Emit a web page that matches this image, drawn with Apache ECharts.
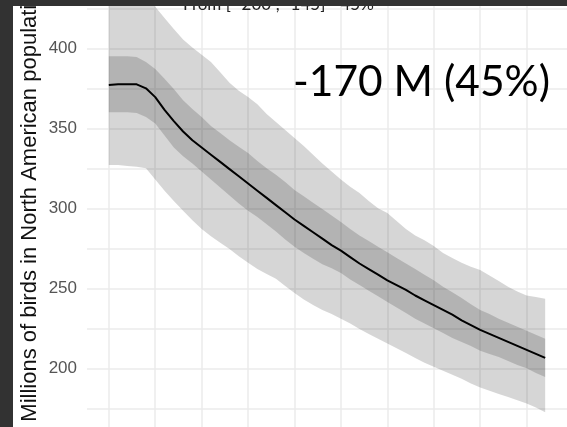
<!DOCTYPE html>
<html>
<head>
<meta charset="utf-8">
<script src="https://cdn.jsdelivr.net/npm/echarts@6/dist/echarts.min.js"></script>
<style>
  html, body { margin: 0; padding: 0; background: #fff; }
  #chart { width: 567px; height: 427px; }
</style>
</head>
<body>
<div id="chart"></div>
<script>
  // years of the trajectory
  var years = [1970, 1971, 1972, 1973, 1974, 1975, 1976, 1977, 1978, 1979,
    1980, 1981, 1982, 1983, 1984, 1985, 1986, 1987, 1988, 1989,
    1990, 1991, 1992, 1993, 1994, 1995, 1996, 1997, 1998, 1999,
    2000, 2001, 2002, 2003, 2004, 2005, 2006, 2007, 2008, 2009,
    2010, 2011, 2012, 2013, 2014, 2015, 2016, 2017];

  // estimated population (millions)
  var mean = [377, 377.5, 377.5, 377.5, 375, 369.5, 361.5, 354.5, 348, 342.5,
    338, 333.5, 329, 324.5, 320, 315.5, 311, 306.5, 302, 297.5,
    293, 289, 285, 281, 277, 273.5, 269.5, 265.5, 262, 258.5,
    255, 252, 249, 245.5, 242.5, 239.5, 236.5, 233.5, 230, 227,
    224, 221.5, 219, 216.5, 214, 211.5, 209, 206.5];

  // inner (dark) interval
  var innerHi = [395, 395, 395, 394.5, 391.5, 387, 381, 374.5, 367.5, 362,
    357, 351.5, 347, 342.5, 338.5, 334.5, 329.5, 325, 321, 316.5,
    311.5, 307.5, 303.5, 299.5, 295.5, 291.5, 287, 283, 279.5, 276,
    272.5, 269, 265.5, 262, 258.5, 255, 251, 247.5, 244, 240,
    236.5, 234, 231, 228.5, 226, 223.5, 221, 218.5];
  var innerLo = [360, 360, 360, 359.5, 357, 353, 345.5, 338, 332.5, 328,
    323, 318, 313, 308, 303, 298.5, 294.5, 290, 285.5, 280.5,
    276, 272, 268.5, 265, 262.5, 259.5, 255.5, 252, 248.5, 245,
    241.5, 238, 234.5, 231, 228, 225, 222, 219, 216.5, 214,
    211, 209, 207, 204.5, 202, 200, 197, 194.5];

  // outer (light) interval
  var outerHi = [440, 440, 440, 438, 432, 426, 419, 412, 405.5, 400.5,
    396, 391.5, 385, 378.5, 373.5, 369.5, 365, 359, 354, 349,
    344, 339, 333.5, 328, 323, 318, 313.5, 309.5, 304.5, 300,
    297, 292, 287, 283, 280, 276.5, 272, 269, 266, 263.5,
    261.5, 258, 254.5, 251, 248, 245.5, 244.5, 243.5];
  var outerLo = [327, 327, 326.5, 326, 325, 318, 311, 304.5, 298.5, 292.5,
    287, 282.5, 278.5, 274.5, 270, 266, 262, 259, 256, 251.5,
    247, 243, 239.5, 236.5, 234, 231, 228, 224.5, 221.5, 218.5,
    215.5, 212.5, 209.5, 206.5, 203.5, 201, 198.5, 196, 193.5, 190.5,
    188, 186, 184, 182, 180, 178, 175.5, 172.5];

  var yLabels = [200, 250, 300, 350, 400];

  var chart = echarts.init(document.getElementById('chart'));

  // ribbon between two lines, drawn through the axes
  function band(lo, hi, fill) {
    return {
      type: 'custom',
      silent: true,
      clip: true,
      data: [[years[0], lo[0]]],
      renderItem: function (params, api) {
        var pts = [];
        for (var i = 0; i < years.length; i++) pts.push(api.coord([years[i], hi[i]]));
        for (var j = years.length - 1; j >= 0; j--) pts.push(api.coord([years[j], lo[j]]));
        return { type: 'polygon', shape: { points: pts }, style: { fill: fill } };
      },
    };
  }

  var gridLine = { show: true, showMinLine: false, showMaxLine: false, lineStyle: { color: '#ebebeb', width: 1.5 } };

  var option = {
    animation: false,
    backgroundColor: '#fff',
    grid: { left: 87, right: 0, top: 0, bottom: 0, outerBoundsMode: 'none' },
    xAxis: {
      type: 'value',
      min: 1967.65,
      max: 2019.35,
      minInterval: 5,
      maxInterval: 5,
      axisLine: { show: false },
      axisTick: { show: false },
      axisLabel: { show: false },
      splitLine: gridLine,
    },
    yAxis: {
      type: 'value',
      min: 163.3,
      max: 430.2,
      minInterval: 25,
      maxInterval: 25,
      axisLine: { show: false },
      axisTick: { show: false },
      axisLabel: {
        margin: 10,
        color: '#555',
        fontSize: 17,
        fontFamily: 'Liberation Sans',
        formatter: function (v) { return yLabels.indexOf(v) >= 0 ? String(v) : ''; },
      },
      splitLine: gridLine,
    },
    series: [
      band(outerLo, outerHi, 'rgba(0,0,0,0.16)'),
      band(innerLo, innerHi, 'rgba(0,0,0,0.16)'),
      {
        type: 'line',
        data: years.map(function (y, i) { return [y, mean[i]]; }),
        showSymbol: false,
        lineStyle: { color: '#000', width: 2 },
        z: 5,
      },
    ],
    graphic: [
      {
        type: 'text', x: 293, y: 82, z: 10,
        style: { text: '-170 M (45%)', font: '42.5px Lato', fill: '#000', textAlign: 'left', textVerticalAlign: 'middle' },
      },
      {
        type: 'text', x: 183, y: 5, z: 10,
        style: { text: 'From [ -200 ; -145]  -45%', font: '17px Lato', fill: '#222', textAlign: 'left', textVerticalAlign: 'middle' },
      },
      {
        type: 'text', x: 29.5, y: 421.7, rotation: Math.PI / 2, z: 10,
        style: { text: 'Millions of birds in North American population', font: '22px Liberation Sans', fill: '#111', textAlign: 'left', textVerticalAlign: 'middle' },
      },
      // dark frame of the screenshot
      { type: 'rect', z: 20, shape: { x: 0, y: 0, width: 567, height: 6 }, style: { fill: '#323232' } },
      { type: 'rect', z: 20, shape: { x: 0, y: 0, width: 13, height: 427 }, style: { fill: '#323232' } },
    ],
  };

  option && chart.setOption(option);
</script>
</body>
</html>
